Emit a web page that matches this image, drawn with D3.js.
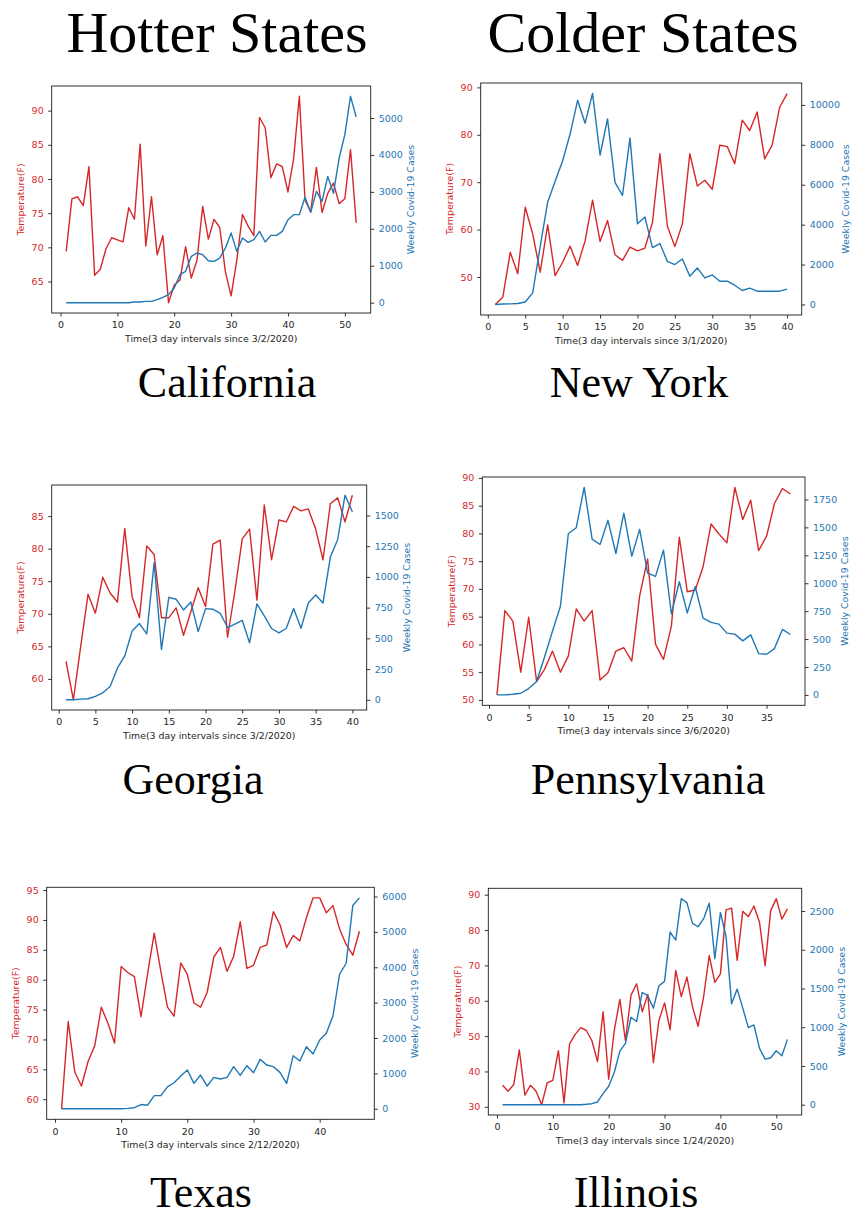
<!DOCTYPE html>
<html>
<head>
<meta charset="utf-8">
<script src="https://cdnjs.cloudflare.com/ajax/libs/d3/7.8.5/d3.min.js"></script>
<style>
  body { margin: 0; background: #fff; }
  .heading { font-family: "Liberation Serif", "Times New Roman", serif; fill: #000; }
</style>
</head>
<body>
<div id="chart"></div>
<script>
// Temperature (F) and weekly case counts, one value per 3 day interval
var caTemp = [69.4, 77.1, 77.4, 76.1, 81.8, 65.9, 66.8, 69.8, 71.4, 71.1, 70.8, 75.8, 74.1, 85.1, 70.2, 77.4, 68.9, 71.7, 61.9, 64.5,
  65.2, 70.1, 65.5, 68.1, 76.0, 71.2, 74.1, 72.9, 66.4, 62.9, 68.1, 74.8, 73.1, 71.7, 89.0, 87.5, 80.2, 82.2, 81.8, 78.1,
  83.0, 92.1, 76.9, 75.2, 81.7, 75.1, 77.9, 79.4, 76.4, 77.1, 84.3, 73.6];
var caCases = [0, 0, 0, 0, 0, 0, 0, 0, 0, 0, 0, 0, 18, 18, 36, 36, 81, 144, 217, 397,
  758, 848, 1254, 1345, 1300, 1137, 1119, 1209, 1480, 1886, 1390, 1751, 1634, 1706, 1931, 1643, 1823, 1823, 1931, 2247,
  2383, 2383, 2852, 2446, 3014, 2744, 3420, 2960, 3917, 4549, 5587, 5027];

var nyTemp = [44.2, 45.7, 55.2, 50.7, 64.7, 59.1, 51.0, 61.0, 50.3, 53.1, 56.5, 52.4, 57.6, 66.2, 57.5, 61.9, 54.7, 53.5, 56.3, 55.5,
  56.1, 61.5, 76.0, 60.7, 56.4, 61.2, 76.0, 69.2, 70.4, 68.5, 77.8, 77.5, 73.9, 83.1, 80.9, 84.8, 74.9, 77.8, 85.8, 88.7];
var nyCases = [0, 20, 30, 50, 120, 580, 2900, 5125, 6170, 7200, 8540, 10230, 9085, 10570, 7490, 9300, 6120, 5460, 8340, 4040,
  4380, 2850, 3050, 2160, 2000, 2280, 1410, 1830, 1330, 1480, 1165, 1165, 965, 700, 815, 665, 665, 665, 665, 765];

var gaTemp = [62.7, 56.8, 65.0, 73.0, 70.1, 75.6, 73.2, 71.8, 83.1, 72.6, 69.4, 80.4, 79.1, 69.4, 69.4, 70.9, 66.7, 70.3, 74.0, 71.1,
  80.7, 81.3, 66.4, 73.5, 81.5, 83.0, 72.1, 86.7, 78.3, 84.4, 84.1, 86.5, 85.8, 86.1, 83.0, 78.3, 86.9, 87.8, 84.1, 88.2];
var gaCases = [0, 0, 5, 8, 27, 57, 108, 257, 357, 560, 620, 536, 1116, 409, 834, 818, 731, 796, 555, 742,
  737, 704, 588, 615, 647, 463, 780, 682, 580, 544, 582, 742, 582, 788, 853, 788, 1162, 1305, 1665, 1530];

var paTemp = [50.9, 66.1, 64.2, 55.0, 64.9, 53.3, 55.5, 58.8, 55.0, 57.9, 66.4, 64.2, 66.1, 53.6, 54.9, 58.8, 59.4, 57.0, 68.8, 75.4,
  60.0, 57.3, 63.3, 79.3, 69.5, 69.8, 74.0, 81.7, 79.9, 78.3, 88.3, 82.5, 86.0, 76.9, 79.5, 85.4, 88.1, 87.1];
var paCases = [0, 0, 6, 15, 57, 120, 340, 570, 794, 1443, 1497, 1858, 1395, 1347, 1563, 1266, 1627, 1242, 1482, 1091,
  1061, 1296, 725, 1013, 734, 971, 688, 649, 634, 553, 544, 484, 538, 370, 364, 415, 586, 541];

var txTemp = [58.4, 73.0, 64.5, 62.2, 66.3, 68.9, 75.4, 72.7, 69.4, 82.2, 81.2, 80.5, 73.8, 81.0, 87.8, 81.4, 75.4, 73.9, 82.8, 80.9,
  76.1, 75.4, 77.9, 83.8, 85.4, 81.4, 83.9, 89.7, 81.9, 82.4, 85.4, 85.8, 91.4, 89.2, 85.4, 87.4, 86.5, 90.4, 93.7, 93.7,
  91.2, 92.4, 88.5, 85.9, 84.1, 88.1];
var txCases = [0, 0, 0, 0, 0, 0, 0, 0, 0, 0, 10, 30, 120, 100, 370, 370, 620, 735, 925, 1095,
  717, 953, 642, 887, 840, 887, 1189, 943, 1217, 1019, 1396, 1236, 1189, 1028, 717, 1500, 1349, 1755, 1547, 1943,
  2132, 2623, 3802, 4113, 5745, 5962];

var ilTemp = [36.1, 34.4, 36.3, 46.1, 33.3, 36.1, 34.4, 30.6, 36.8, 37.5, 45.9, 31.1, 47.8, 50.5, 52.4, 51.6, 48.7, 42.8, 56.9, 37.8,
  51.6, 60.4, 48.7, 61.6, 64.8, 56.9, 61.8, 42.5, 54.5, 59.4, 51.8, 68.6, 61.2, 66.7, 58.3, 52.8, 61.2, 72.8, 65.2, 67.6,
  85.7, 86.2, 71.4, 85.3, 83.8, 86.8, 82.2, 69.9, 85.5, 88.9, 83.1, 86.0];
var ilCases = [0, 0, 0, 0, 0, 0, 0, 0, 0, 0, 0, 0, 0, 0, 0, 5, 13, 35, 143, 238,
  415, 692, 791, 1129, 1073, 1449, 1406, 1246, 1535, 1592, 2228, 2124, 2660, 2608, 2340, 2297, 2401, 2600, 1886, 2478,
  2176, 1302, 1492, 1246, 995, 1029, 727, 588, 606, 696, 632, 843];

// tick labels
var caTempTicks = [65, 70, 75, 80, 85, 90];
var caCaseTicks = [0, 1000, 2000, 3000, 4000, 5000];
var caDayTicks = [0, 10, 20, 30, 40, 50];
var nyTempTicks = [50, 60, 70, 80, 90];
var nyCaseTicks = [0, 2000, 4000, 6000, 8000, 10000];
var nyDayTicks = [0, 5, 10, 15, 20, 25, 30, 35, 40];
var gaTempTicks = [60, 65, 70, 75, 80, 85];
var gaCaseTicks = [0, 250, 500, 750, 1000, 1250, 1500];
var gaDayTicks = [0, 5, 10, 15, 20, 25, 30, 35, 40];
var paTempTicks = [50, 55, 60, 65, 70, 75, 80, 85, 90];
var paCaseTicks = [0, 250, 500, 750, 1000, 1250, 1500, 1750];
var paDayTicks = [0, 5, 10, 15, 20, 25, 30, 35];
var txTempTicks = [60, 65, 70, 75, 80, 85, 90, 95];
var txCaseTicks = [0, 1000, 2000, 3000, 4000, 5000, 6000];
var txDayTicks = [0, 10, 20, 30, 40];
var ilTempTicks = [30, 40, 50, 60, 70, 80, 90];
var ilCaseTicks = [0, 500, 1000, 1500, 2000, 2500];
var ilDayTicks = [0, 10, 20, 30, 40, 50];

var svgWidth = 852;
var svgHeight = 1217;
var red = "#d62728";
var blue = "#1f77b4";
var tickFont = 9.5;
var labelFont = 9.4;

var svg = d3.select("#chart")
  .append("svg")
  .attr("width", svgWidth)
  .attr("height", svgHeight);

// column headings
svg.append("text").attr("class", "heading")
  .attr("x", 217).attr("y", 52)
  .attr("text-anchor", "middle").style("font-size", "58px")
  .text("Hotter States");
svg.append("text").attr("class", "heading")
  .attr("x", 643).attr("y", 52)
  .attr("text-anchor", "middle").style("font-size", "58px")
  .text("Colder States");

var panels = [
  { name: "California", since: "3/2/2020", temp: caTemp, cases: caCases,
    tempTicks: caTempTicks, caseTicks: caCaseTicks, dayTicks: caDayTicks,
    box: { left: 51.7, right: 370.7, top: 86, bottom: 313 }, nameX: 227, nameY: 397 },
  { name: "New York", since: "3/1/2020", temp: nyTemp, cases: nyCases,
    tempTicks: nyTempTicks, caseTicks: nyCaseTicks, dayTicks: nyDayTicks,
    box: { left: 480.7, right: 801.7, top: 83, bottom: 315 }, nameX: 639, nameY: 397 },
  { name: "Georgia", since: "3/2/2020", temp: gaTemp, cases: gaCases,
    tempTicks: gaTempTicks, caseTicks: gaCaseTicks, dayTicks: gaDayTicks,
    box: { left: 51.7, right: 366.7, top: 485, bottom: 710 }, nameX: 193, nameY: 794 },
  { name: "Pennsylvania", since: "3/6/2020", temp: paTemp, cases: paCases,
    tempTicks: paTempTicks, caseTicks: paCaseTicks, dayTicks: paDayTicks,
    box: { left: 482.3, right: 805, top: 477, bottom: 705.3 }, nameX: 648, nameY: 794 },
  { name: "Texas", since: "2/12/2020", temp: txTemp, cases: txCases,
    tempTicks: txTempTicks, caseTicks: txCaseTicks, dayTicks: txDayTicks,
    box: { left: 46.7, right: 374.3, top: 887.3, bottom: 1119.3 }, nameX: 201, nameY: 1207 },
  { name: "Illinois", since: "1/24/2020", temp: ilTemp, cases: ilCases,
    tempTicks: ilTempTicks, caseTicks: ilCaseTicks, dayTicks: ilDayTicks,
    box: { left: 488.3, right: 801.7, top: 888.3, bottom: 1115 }, nameX: 636, nameY: 1207 }
];

// matplotlib style 5% margin around the data
function padded(extent) {
  var m = (extent[1] - extent[0]) * 0.05;
  return [extent[0] - m, extent[1] + m];
}

function styleAxis(g, color) {
  g.select(".domain").remove();
  g.selectAll(".tick line").attr("stroke", "#000").attr("stroke-width", 0.8);
  g.selectAll(".tick text")
    .attr("fill", color)
    .style("font-family", "'DejaVu Sans', sans-serif")
    .style("font-size", tickFont + "px");
}

panels.forEach(function(p) {
  var b = p.box;
  var days = d3.range(1, p.temp.length + 1);

  var xScale = d3.scaleLinear()
    .domain(padded([1, days.length]))
    .range([b.left, b.right]);
  var tempScale = d3.scaleLinear()
    .domain(padded(d3.extent(p.temp)))
    .range([b.bottom, b.top]);
  var caseScale = d3.scaleLinear()
    .domain(padded(d3.extent(p.cases)))
    .range([b.bottom, b.top]);

  var g = svg.append("g");

  // axes
  var xAxis = g.append("g")
    .attr("transform", `translate(0, ${b.bottom})`)
    .call(d3.axisBottom(xScale).tickValues(p.dayTicks).tickFormat(d3.format("d"))
      .tickSize(3.5).tickPadding(5));
  styleAxis(xAxis, "#262626");

  var leftAxis = g.append("g")
    .attr("transform", `translate(${b.left}, 0)`)
    .call(d3.axisLeft(tempScale).tickValues(p.tempTicks).tickFormat(d3.format("d"))
      .tickSize(3.5).tickPadding(4.5));
  styleAxis(leftAxis, red);

  var rightAxis = g.append("g")
    .attr("transform", `translate(${b.right}, 0)`)
    .call(d3.axisRight(caseScale).tickValues(p.caseTicks).tickFormat(d3.format("d"))
      .tickSize(3.5).tickPadding(4.5));
  styleAxis(rightAxis, blue);

  // temperature line then cases line on top
  var tempLine = d3.line()
    .x(function(d, i) { return xScale(days[i]); })
    .y(function(d) { return tempScale(d); });
  var caseLine = d3.line()
    .x(function(d, i) { return xScale(days[i]); })
    .y(function(d) { return caseScale(d); });

  g.append("path")
    .datum(p.temp)
    .attr("d", tempLine)
    .attr("fill", "none")
    .attr("stroke", red)
    .attr("stroke-width", 1.4)
    .attr("stroke-linejoin", "round");

  g.append("path")
    .datum(p.cases)
    .attr("d", caseLine)
    .attr("fill", "none")
    .attr("stroke", blue)
    .attr("stroke-width", 1.4)
    .attr("stroke-linejoin", "round");

  // frame
  g.append("rect")
    .attr("x", b.left).attr("y", b.top)
    .attr("width", b.right - b.left).attr("height", b.bottom - b.top)
    .attr("fill", "none")
    .attr("stroke", "#1a1a1a")
    .attr("stroke-width", 0.9);

  var midY = (b.top + b.bottom) / 2;
  var rightW = rightAxis.node().getBBox().width;

  // axis labels
  g.append("text")
    .attr("transform", `translate(${b.left - 30.5}, ${midY}) rotate(-90)`)
    .attr("dy", "0.35em")
    .attr("text-anchor", "middle")
    .attr("fill", red)
    .style("font-family", "'DejaVu Sans', sans-serif")
    .style("font-size", labelFont + "px")
    .text("Temperature(F)");

  g.append("text")
    .attr("transform", `translate(${Math.min(b.right + rightW + 8, 845.5)}, ${midY}) rotate(-90)`)
    .attr("dy", "0.35em")
    .attr("text-anchor", "middle")
    .attr("fill", blue)
    .style("font-family", "'DejaVu Sans', sans-serif")
    .style("font-size", labelFont + "px")
    .text("Weekly Covid-19 Cases");

  g.append("text")
    .attr("x", (b.left + b.right) / 2)
    .attr("y", b.bottom + 29)
    .attr("text-anchor", "middle")
    .attr("fill", "#262626")
    .style("font-family", "'DejaVu Sans', sans-serif")
    .style("font-size", labelFont + "px")
    .text(`Time(3 day intervals since ${p.since})`);

  // state name under the chart
  svg.append("text").attr("class", "heading")
    .attr("x", p.nameX).attr("y", p.nameY)
    .attr("text-anchor", "middle").style("font-size", "44px")
    .text(p.name);
});
</script>
</body>
</html>
